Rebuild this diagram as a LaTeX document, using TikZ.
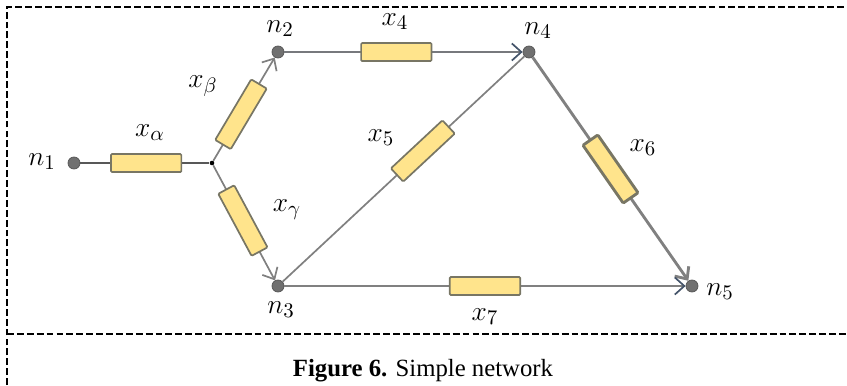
\documentclass[tikz,border=0pt]{standalone}
\usepackage{fontspec}
\setmainfont{Liberation Serif}
\usepackage{tikz}
\usetikzlibrary{arrows.meta,positioning}
\definecolor{wiregray}{RGB}{128,128,128}
\definecolor{wiredark}{RGB}{88,88,88}
\definecolor{nodegray}{RGB}{112,112,112}
\definecolor{resyellow}{RGB}{255,228,140}
\definecolor{resedge}{RGB}{120,118,100}
\definecolor{tipblue}{RGB}{68,84,106}
\tikzset{
  nodept/.style={circle,draw=nodegray!75!black,fill=nodegray,
    minimum size=6.3pt,inner sep=0pt},
  jdot/.style={circle,fill=black,minimum size=2.4pt,inner sep=0pt},
  res/.style={draw=resedge,fill=resyellow,minimum width=37pt,
    minimum height=9.5pt,inner sep=0pt,rounded corners=0.6pt},
  wire/.style={draw=wiregray,line width=0.9pt},
  nflow/.style={wire,-{Straight Barb[length=5pt,width=9pt]}},
  blueflow/.style={wire,-{Straight Barb[length=5pt,width=9pt,color=tipblue]}},
  lab/.style={font=\fontsize{15}{18}\selectfont,inner sep=0pt},
  borderline/.style={line width=1.3pt,dash pattern=on 3.6pt off 1.6pt},
  caption/.style={font=\fontsize{13}{15}\selectfont,anchor=base}
}

\begin{document}
\begin{tikzpicture}[x=0.525pt,y=-0.525pt]
  \useasboundingbox (0,0) rectangle (847,385);
  \node[nodept] (n1) at (74,163) {};
  \node[jdot] (j) at (212,163) {};
  \node[nodept] (n2) at (278,52) {};
  \node[nodept] (n3) at (278,286) {};
  \node[nodept] (n4) at (529,52) {};
  \node[nodept] (n5) at (692,286) {};
  \draw[wire,draw=wiredark] (n1)--node[res,pos=.51]{}(j);
  \draw[nflow] (j)--node[res,sloped,pos=.45]{}(n2);
  \draw[nflow] (j)--node[res,sloped,pos=.48]{}(n3);
  \draw[blueflow,draw=wiregray!85!tipblue] (n2)--node[res,pos=.47]{}(n4);
  \draw[wire] (n3)--node[res,sloped,pos=.58]{}(n4);
  \draw[nflow,line width=1.5pt] (n4)--node[res,sloped,pos=.5]{}(n5);
  \draw[blueflow] (n3)--node[res,pos=.5]{}(n5);
  % node names
  \node[lab] (l1) at (42,162) {$n_1$};
  \node[lab] (l2) at (280,29) {$n_2$};
  \node[lab] (l3) at (281,310) {$n_3$};
  \node[lab] (l4) at (538,31) {$n_4$};
  \node[lab] (l5) at (720,292) {$n_5$};
  % branch names
  \node[lab] (xa) at (150,133) {$x_\alpha$};
  \node[lab] (xb) at (203,86) {$x_\beta$};
  \node[lab] (xg) at (287,210) {$x_\gamma$};
  \node[lab] (x4) at (395,22) {$x_4$};
  \node[lab] (x5) at (381,138) {$x_5$};
  \node[lab] (x6) at (643,148) {$x_6$};
  \node[lab] (x7) at (485,317) {$x_7$};
  % frame and caption
  \draw[borderline] (7,385)--(7,7)--(847,7);
  \draw[borderline] (7,334)--(847,334);
  \node[caption] (cap) at (423,376) {\textbf{Figure 6.} Simple network};
\end{tikzpicture}
\end{document}
